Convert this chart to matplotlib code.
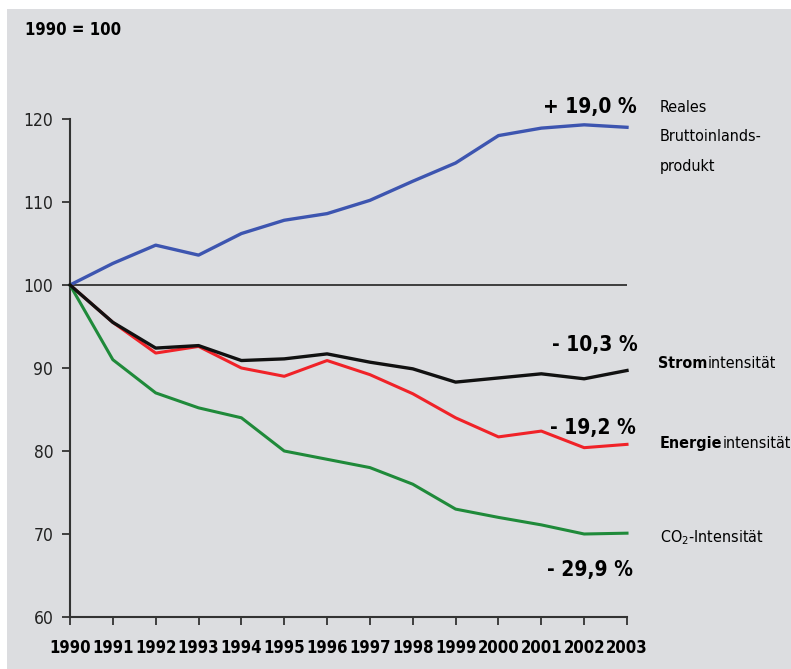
import matplotlib
matplotlib.use("Agg")
import matplotlib.pyplot as plt
from matplotlib.patches import Rectangle

plt.rcParams['font.family'] = ['DejaVu Sans']
plt.rcParams['font.stretch'] = 'condensed'

years = list(range(1990, 2004))
bip = [100, 102.6, 104.8, 103.6, 106.2, 107.8, 108.6, 110.2, 112.5, 114.7, 118.0, 118.9, 119.3, 119.0]
strom = [100, 95.5, 92.4, 92.7, 90.9, 91.1, 91.7, 90.7, 89.9, 88.3, 88.8, 89.3, 88.7, 89.7]
energie = [100, 95.5, 91.8, 92.6, 90.0, 89.0, 90.9, 89.2, 86.9, 84.0, 81.7, 82.4, 80.4, 80.8]
co2 = [100, 91.0, 87.0, 85.2, 84.0, 80.0, 79.0, 78.0, 76.0, 73.0, 72.0, 71.1, 70.0, 70.1]

bg = '#dcdde0'

fig = plt.figure(figsize=(7.91, 6.69), dpi=100)
fig.patches.append(Rectangle((7 / 791, 0), 1, 1 - 9 / 669, transform=fig.transFigure,
                             facecolor=bg, edgecolor='none', zorder=-10))

ax = fig.add_axes([70 / 791, 1 - 617 / 669, 557 / 791, 498 / 669])
ax.set_facecolor('none')

ax.axhline(100, color='#222222', lw=1.2, zorder=1)
ax.plot(years, bip, color='#3d55b0', lw=2.4, clip_on=False, zorder=3)
ax.plot(years, energie, color='#f02228', lw=2.2, clip_on=False, zorder=3)
ax.plot(years, strom, color='#111111', lw=2.4, clip_on=False, zorder=4)
ax.plot(years, co2, color='#1f8a3a', lw=2.2, clip_on=False, zorder=3)

ax.set_xlim(1990, 2003)
ax.set_ylim(60, 120)
ax.set_yticks(range(60, 121, 10))
ax.set_xticks(years)
ax.tick_params(axis='y', direction='out', length=6, width=1.3, color='#333333',
               labelsize=12.5, labelcolor='#222222', pad=6)
ax.tick_params(axis='x', direction='out', length=6, width=1.3, color='#333333',
               labelsize=12, pad=10)
for lab in ax.get_xticklabels():
    lab.set_fontweight('bold')
for side in ['top', 'right']:
    ax.spines[side].set_visible(False)
for side in ['left', 'bottom']:
    ax.spines[side].set_linewidth(1.5)
    ax.spines[side].set_color('#333333')

fig.text(25 / 791, 1 - 30 / 669, '1990 = 100', fontsize=12, fontweight='bold',
         va='center', ha='left')

pct = dict(fontsize=15, fontweight='bold', ha='center', va='center')
ax.text(2002.13, 121.5, '+ 19,0 %', **pct)
ax.text(2002.25, 92.8, '- 10,3 %', **pct)
ax.text(2002.2, 82.8, '- 19,2 %', **pct)
ax.text(2002.13, 65.7, '- 29,9 %', **pct)

fs = 11.5
ax.text(2003.77, 122.3, 'Reales\nBruttoinlands-\nprodukt', linespacing=2.2, ha='left',
        va='top', fontsize=fs)


def two_part(x, y, bold, rest):
    t = ax.text(x, y, bold, fontsize=fs, fontweight='bold', ha='left', va='center')
    ax.annotate(rest, xy=(1, 0.5), xycoords=t, va='center', ha='left', fontsize=fs)


two_part(2003.72, 90.5, 'Strom', 'intensität')
two_part(2003.77, 80.9, 'Energie', 'intensität')
ax.text(2003.77, 69.6, 'CO$_2$-Intensität', fontsize=fs, ha='left', va='center')

fig.savefig('out.png', dpi=100)
